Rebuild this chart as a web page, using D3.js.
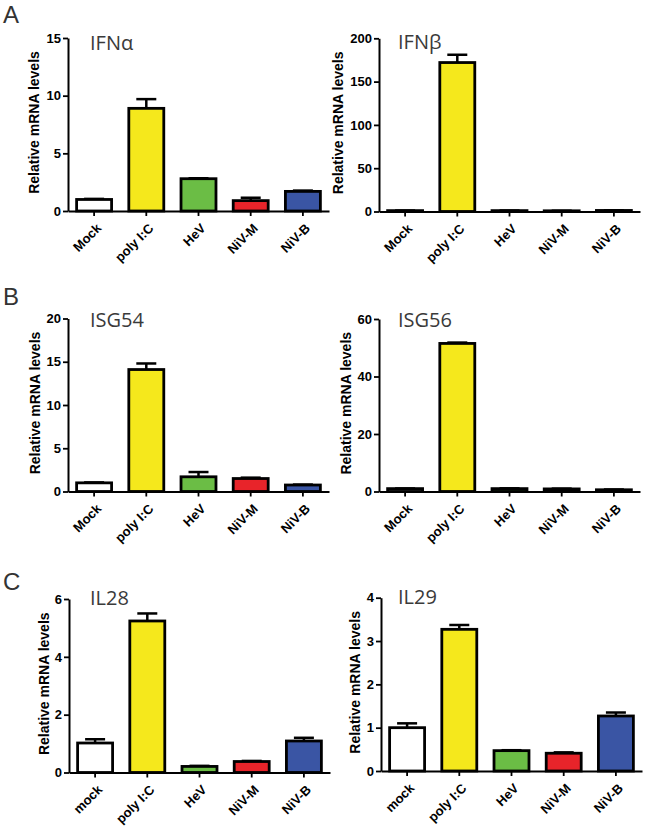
<!DOCTYPE html>
<html>
<head>
<meta charset="utf-8">
<script src="https://cdn.jsdelivr.net/npm/d3@7"></script>
<style>
  html, body { margin: 0; padding: 0; background: #fff; }
  svg { display: block; }
</style>
</head>
<body>
<svg id="chart" width="646" height="829"></svg>
<script>
// ---------- data ----------
const categoriesAB = ["Mock", "poly I:C", "HeV", "NiV-M", "NiV-B"];
const categoriesC  = ["mock", "poly I:C", "HeV", "NiV-M", "NiV-B"];
const barColors = ["#ffffff", "#f5e81c", "#6bbd45", "#e8242a", "#3a55a4"];

const ifnaValues  = [1.0, 8.9, 2.8, 0.9, 1.7];
const ifnaErrors  = [0.05, 0.8, 0.04, 0.25, 0.07];
const ifnaTicks   = [0, 5, 10, 15];

const ifnbValues  = [1.0, 172, 1.0, 0.8, 1.2];
const ifnbErrors  = [0.1, 9, 0.1, 0.1, 0.2];
const ifnbTicks   = [0, 50, 100, 150, 200];

const isg54Values = [1.0, 14.1, 1.7, 1.5, 0.75];
const isg54Errors = [0.05, 0.7, 0.55, 0.1, 0.05];
const isg54Ticks  = [0, 5, 10, 15, 20];

const isg56Values = [1.0, 51.5, 1.0, 0.9, 0.6];
const isg56Errors = [0.05, 0.3, 0.1, 0.1, 0.1];
const isg56Ticks  = [0, 20, 40, 60];

const il28Values  = [1.02, 5.24, 0.21, 0.38, 1.09];
const il28Errors  = [0.13, 0.26, 0.02, 0.02, 0.11];
const il28Ticks   = [0, 2, 4, 6];

const il29Values  = [1.0, 3.27, 0.47, 0.41, 1.27];
const il29Errors  = [0.1, 0.1, 0.01, 0.02, 0.08];
const il29Ticks   = [0, 1, 2, 3, 4];

const yLabel = "Relative mRNA levels";
const sectionLetters = ["A", "B", "C"];

// ---------- layout ----------
const panels = [
  { title: "IFNα",  cats: categoriesAB, values: ifnaValues,  errors: ifnaErrors,  ticks: ifnaTicks,
    ax: 68,  y0: 211,   yTop: 38,    tx: 90,  ty: 50,  labOff: 34 },
  { title: "IFNβ",  cats: categoriesAB, values: ifnbValues,  errors: ifnbErrors,  ticks: ifnbTicks,
    ax: 379, y0: 211.5, yTop: 38.3,  tx: 398, ty: 49,  labOff: 41 },
  { title: "ISG54", cats: categoriesAB, values: isg54Values, errors: isg54Errors, ticks: isg54Ticks,
    ax: 68,  y0: 491.5, yTop: 318.5, tx: 90,  ty: 327, labOff: 33 },
  { title: "ISG56", cats: categoriesAB, values: isg56Values, errors: isg56Errors, ticks: isg56Ticks,
    ax: 379, y0: 491.5, yTop: 319,   tx: 398, ty: 327, labOff: 33 },
  { title: "IL28",  cats: categoriesC,  values: il28Values,  errors: il28Errors,  ticks: il28Ticks,
    ax: 69,  y0: 772.5, yTop: 599,   tx: 90,  ty: 605, labOff: 25 },
  { title: "IL29",  cats: categoriesC,  values: il29Values,  errors: il29Errors,  ticks: il29Ticks,
    ax: 381, y0: 771,   yTop: 597.7, tx: 398, ty: 604, labOff: 26 }
];
const letterPos = [{x: 3, y: 23}, {x: 3, y: 305}, {x: 3, y: 590}];

const svg = d3.select("#chart");
const defs = svg.append("defs");
const sansBold = "'Liberation Sans', Arial, sans-serif";
const titleFont = "'Open Sans', 'Noto Sans', sans-serif";
const c45 = Math.SQRT1_2;

sectionLetters.forEach((L, i) => {
  svg.append("text")
    .attr("x", letterPos[i].x).attr("y", letterPos[i].y)
    .attr("font-family", sansBold).attr("font-size", 24)
    .attr("fill", "#333").text(L);
});

let pathId = 0;
panels.forEach(p => {
  const g = svg.append("g");
  const x = d3.scaleBand().domain(p.cats).range([p.ax, p.ax + 261])
    .paddingInner(0.33).paddingOuter(0.165);
  const y = d3.scaleLinear().domain([p.ticks[0], p.ticks[p.ticks.length - 1]]).range([p.y0, p.yTop]);
  const data = p.cats.map((c, i) => ({ c, v: p.values[i], e: p.errors[i], col: barColors[i] }));

  // error bars (upper only)
  const eb = g.append("g").attr("stroke", "#000").attr("stroke-width", 2.5);
  data.forEach(d => {
    const cx = x(d.c) + x.bandwidth() / 2;
    eb.append("line").attr("x1", cx).attr("x2", cx).attr("y1", y(d.v)).attr("y2", y(d.v + d.e));
    eb.append("line").attr("x1", cx - 10).attr("x2", cx + 10).attr("y1", y(d.v + d.e)).attr("y2", y(d.v + d.e));
  });

  // bars
  g.append("g").selectAll("rect").data(data).join("rect")
    .attr("x", d => x(d.c))
    .attr("y", d => y(d.v))
    .attr("width", x.bandwidth())
    .attr("height", d => Math.max(0, y(0) - y(d.v)))
    .attr("fill", d => d.col)
    .attr("stroke", "#000").attr("stroke-width", 2.8);

  // y axis
  const yAxis = g.append("g").attr("transform", `translate(${p.ax},0)`)
    .call(d3.axisLeft(y).tickValues(p.ticks).tickFormat(d3.format("d"))
      .tickSize(5).tickSizeOuter(0).tickPadding(2));
  yAxis.select(".domain").attr("stroke-width", 2);
  yAxis.selectAll(".tick line").attr("stroke-width", 1.8);
  yAxis.selectAll("text").attr("font-family", sansBold).attr("font-weight", "bold")
    .attr("font-size", 13).attr("fill", "#000");

  // x axis
  const xAxis = g.append("g").attr("transform", `translate(0,${p.y0})`)
    .call(d3.axisBottom(x).tickSize(5).tickSizeOuter(0).tickFormat(""));
  xAxis.select(".domain").attr("stroke-width", 2);
  xAxis.selectAll(".tick line").attr("stroke-width", 1.8);
  xAxis.selectAll(".tick text").remove();

  // category labels along a -45 degree path
  const lab = g.append("g");
  p.cats.forEach(d => {
    const ex = x(d) + x.bandwidth() / 2 + 8, ey = p.y0 + 18;
    const L = 90;
    const id = "lbl" + (pathId++);
    defs.append("path").attr("id", id)
      .attr("d", `M${ex - L * c45},${ey + L * c45}L${ex},${ey}`);
    lab.append("text")
      .attr("font-family", sansBold).attr("font-weight", "bold")
      .attr("font-size", 13).attr("fill", "#000")
      .append("textPath")
      .attr("href", "#" + id)
      .attr("startOffset", "100%")
      .attr("text-anchor", "end")
      .text(d);
  });

  // y label
  const cy = (p.y0 + p.yTop) / 2 - 2;
  g.append("text")
    .attr("transform", `translate(${p.ax - p.labOff},${cy}) rotate(-90)`)
    .attr("text-anchor", "middle").attr("dy", "0.35em")
    .attr("font-family", sansBold).attr("font-weight", "bold")
    .attr("font-size", 14).attr("fill", "#000")
    .text(yLabel);

  // title
  g.append("text").attr("x", p.tx).attr("y", p.ty)
    .attr("font-family", titleFont).attr("font-size", 20)
    .attr("fill", "#3a3a3a").text(p.title);
});
</script>
</body>
</html>
